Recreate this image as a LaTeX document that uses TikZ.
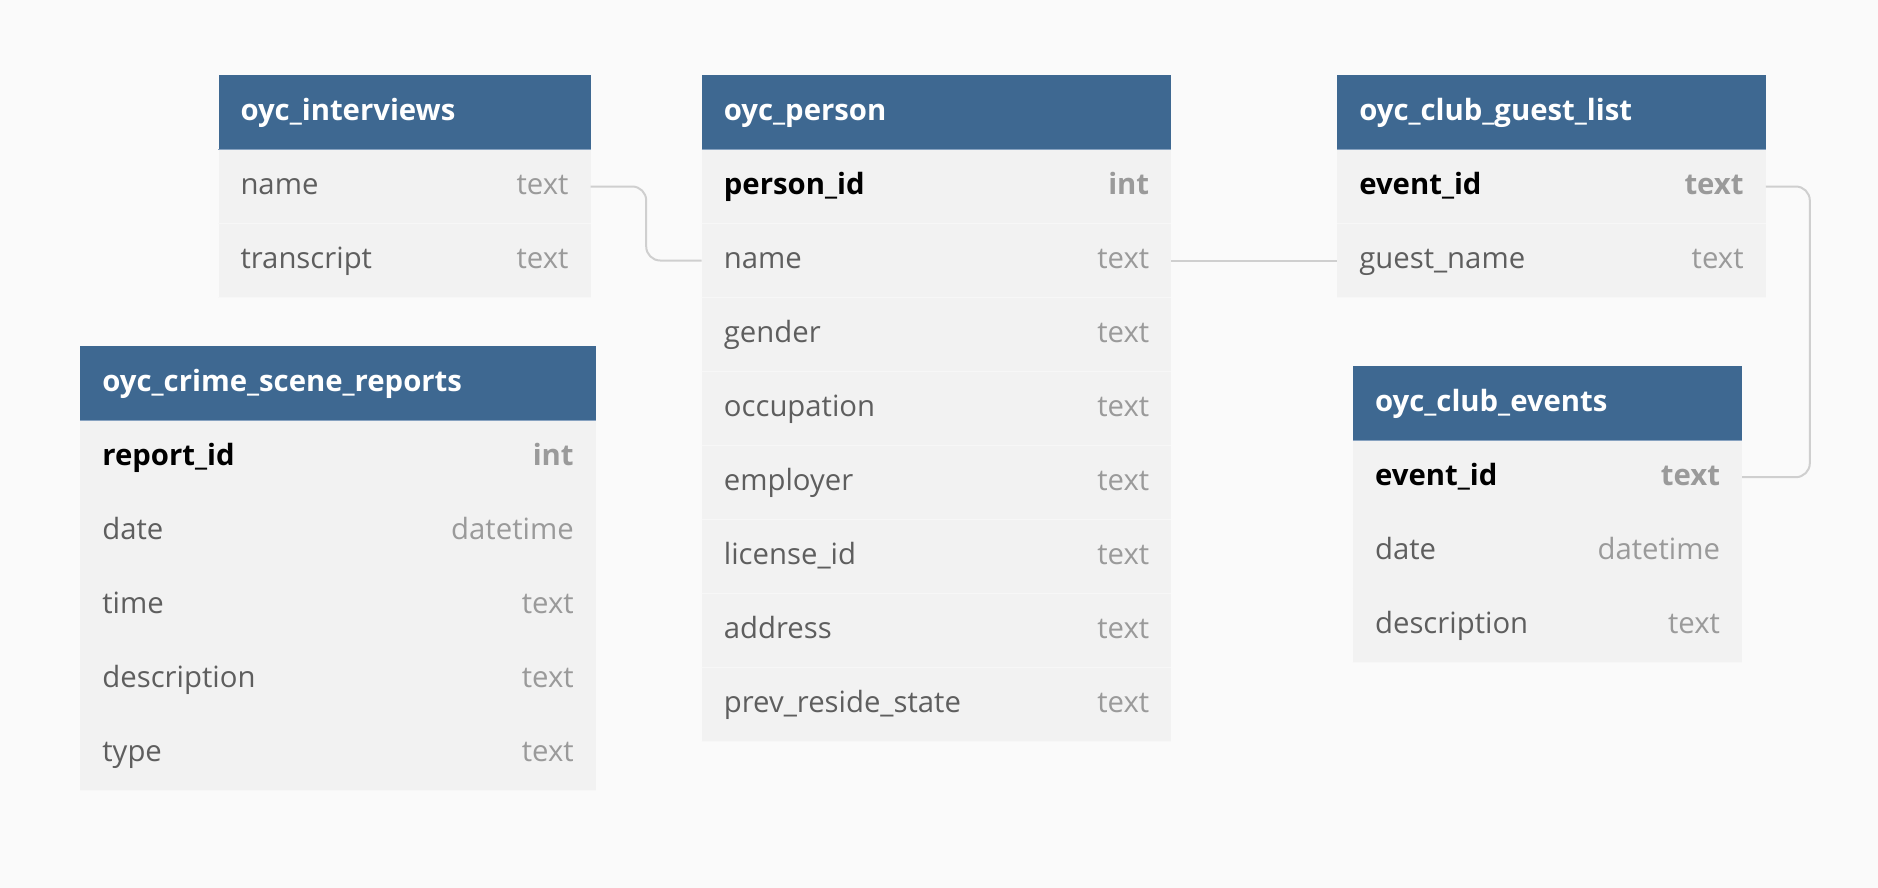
\documentclass[tikz,border=0pt]{standalone}
\usepackage{fontspec}
\setmainfont{Open Sans}
\usetikzlibrary{calc}
\definecolor{bg}{HTML}{FAFAFA}
\definecolor{hdrblue}{HTML}{3E6891}
\definecolor{hdrline}{HTML}{87A2C0}
\definecolor{rowfill}{HTML}{F2F2F2}
\definecolor{rowsepc}{HTML}{F7F7F7}
\definecolor{fieldtxt}{HTML}{5E5E5E}
\definecolor{typetxt}{HTML}{9A9A9A}
\definecolor{conncol}{HTML}{CFCFCF}
\tikzset{
  hdr/.style={fill=hdrblue, draw=none, inner sep=0, minimum height=74pt, anchor=north west},
  rowbox/.style={fill=rowfill, draw=none, inner sep=0, minimum height=74pt, anchor=north west},
  hdrtxt/.style={text=white, font=\fontsize{29.3}{33}\selectfont\bfseries, inner sep=0, anchor=base west},
  normfld/.style={text=fieldtxt, font=\fontsize{29.3}{33}\selectfont, inner sep=0, anchor=base west},
  normtyp/.style={text=typetxt, font=\fontsize{29.3}{33}\selectfont, inner sep=0, anchor=base east},
  pkfld/.style={text=black, font=\fontsize{29.3}{33}\selectfont\bfseries, inner sep=0, anchor=base west},
  pktyp/.style={text=typetxt, font=\fontsize{29.3}{33}\selectfont\bfseries, inner sep=0, anchor=base east},
  rowsep/.style={draw=rowsepc, line width=1.2pt},
  hline/.style={draw=hdrline, line width=1.5pt},
  conn/.style={draw=conncol, line width=2pt, rounded corners=14pt},
}
\newcommand\ERhead[5]{%
  \node[hdr, minimum width=#4pt] (#1) at (#2,#3) {};
  \node[hdrtxt] (#1-t) at ([xshift=22pt,yshift=-7.8pt]#1.west) {#5};
}
\newcommand\ERrow[7]{%
  \node[rowbox, minimum width=#4pt] (#1) at (#2,#3) {};
  \draw[rowsep] (#1.south west) -- (#1.south east);
  \node[#7fld] (#1-f) at ([xshift=22pt,yshift=-7.8pt]#1.west) {#5};
  \node[#7typ] (#1-y) at ([xshift=-22pt,yshift=-7.8pt]#1.east) {#6};
}
\newcommand\ERhline[1]{\draw[hline] (#1.south west) -- (#1.south east);}
\begin{document}
\begin{tikzpicture}[x=1pt,y=-1pt]
\fill[bg] (0,0) rectangle (1878,888);
\useasboundingbox (0,0) rectangle (1878,888);

% oyc_interviews
\ERhead{int}{218.3}{75.3}{372}{oyc\_interviews}
\ERrow{int-r1}{218.3}{149.3}{372}{name}{text}{norm}
\ERrow{int-r2}{218.3}{223.3}{372}{transcript}{text}{norm}
\ERhline{int}

% oyc_person
\ERhead{per}{701.7}{75.3}{469.3}{oyc\_person}
\ERrow{per-r1}{701.7}{149.3}{469.3}{person\_id}{int}{pk}
\ERrow{per-r2}{701.7}{223.3}{469.3}{name}{text}{norm}
\ERrow{per-r3}{701.7}{297.3}{469.3}{gender}{text}{norm}
\ERrow{per-r4}{701.7}{371.3}{469.3}{occupation}{text}{norm}
\ERrow{per-r5}{701.7}{445.3}{469.3}{employer}{text}{norm}
\ERrow{per-r6}{701.7}{519.3}{469.3}{license\_id}{text}{norm}
\ERrow{per-r7}{701.7}{593.3}{469.3}{address}{text}{norm}
\ERrow{per-r8}{701.7}{667.3}{469.3}{prev\_reside\_state}{text}{norm}
\ERhline{per}

% oyc_club_guest_list
\ERhead{gl}{1337.1}{75.3}{428.3}{oyc\_club\_guest\_list}
\ERrow{gl-r1}{1337.1}{149.3}{428.3}{event\_id}{text}{pk}
\ERrow{gl-r2}{1337.1}{223.3}{428.3}{guest\_name}{text}{norm}
\ERhline{gl}

% oyc_club_events
\ERhead{ev}{1352.9}{366}{388.9}{oyc\_club\_events}
\ERrow{ev-r1}{1352.9}{440}{388.9}{event\_id}{text}{pk}
\ERrow{ev-r2}{1352.9}{514}{388.9}{date}{datetime}{norm}
\ERrow{ev-r3}{1352.9}{588}{388.9}{description}{text}{norm}
\ERhline{ev}

% oyc_crime_scene_reports
\ERhead{cr}{80.2}{346}{515.3}{oyc\_crime\_scene\_reports}
\ERrow{cr-r1}{80.2}{420}{515.3}{report\_id}{int}{pk}
\ERrow{cr-r2}{80.2}{494}{515.3}{date}{datetime}{norm}
\ERrow{cr-r3}{80.2}{568}{515.3}{time}{text}{norm}
\ERrow{cr-r4}{80.2}{642}{515.3}{description}{text}{norm}
\ERrow{cr-r5}{80.2}{716}{515.3}{type}{text}{norm}
\ERhline{cr}

% connectors
\coordinate (m1) at ($(int-r1.east)!.5!(per-r2.west)$);
\draw[conn] (int-r1.east) -| (m1) |- (per-r2.west);
\draw[conn] (per-r2.east) -- (gl-r2.west);
\coordinate (m3) at ([xshift=44pt]gl-r1.east);
\draw[conn] (gl-r1.east) -- (m3) |- (ev-r1.east);
\end{tikzpicture}
\end{document}
